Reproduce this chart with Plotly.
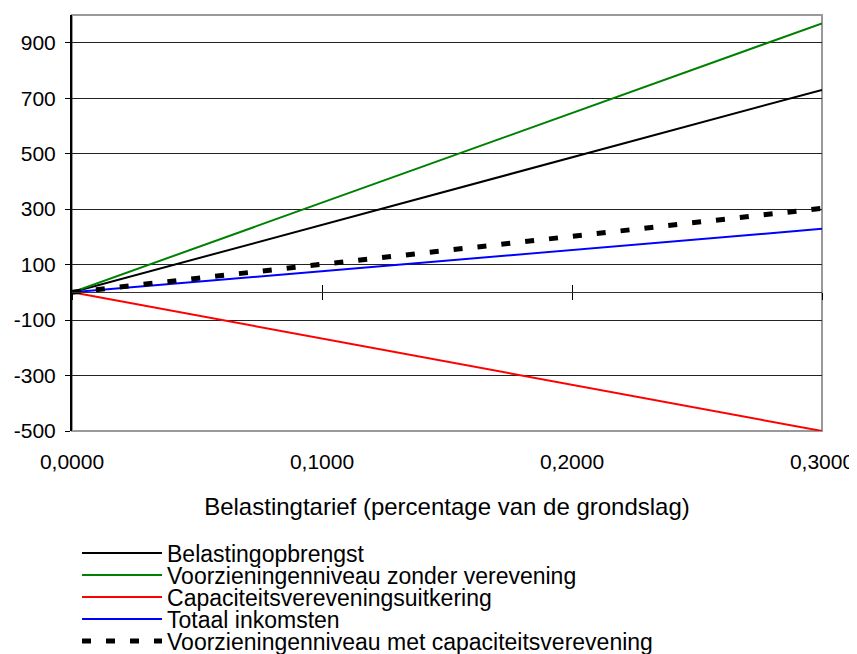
import plotly.graph_objects as go

# Data
tarief = [0.0, 0.3]
belastingopbrengst = [0, 730]
voorziening_zonder = [0, 970]
capaciteitsuitkering = [0, -500]
totaal_inkomsten = [0, 229]
voorziening_met = [0, 303]

series_names = [
    "Belastingopbrengst",
    "Voorzieningenniveau zonder verevening",
    "Capaciteitsvereveningsuitkering",
    "Totaal inkomsten",
    "Voorzieningenniveau met capaciteitsverevening",
]

x_ticks = [0.0, 0.1, 0.2, 0.3]
y_ticks = [-500, -300, -100, 100, 300, 500, 700, 900]
y_tick_labels = [str(v) for v in y_ticks]
y_range = [-500, 1000]
x_range = [0.0, 0.3]

FONT = "Liberation Sans, Arial, sans-serif"
# the page body adds an 8px margin; size the figure so it fits the window
OFF = 8
W, H = 857 - OFF, 654 - OFF
M = dict(l=72 - OFF, r=35, t=15 - OFF, b=223)
plot_h = H - M["t"] - M["b"]

fig = go.Figure()
styles = [
    dict(color="#000000", width=2),
    dict(color="#008000", width=2),
    dict(color="#FF0000", width=2),
    dict(color="#0000FF", width=2),
    dict(color="#000000", width=5, dash="9px,15px"),
]
values = [belastingopbrengst, voorziening_zonder, capaciteitsuitkering,
          totaal_inkomsten, voorziening_met]
legend_keys = ["legend", "legend2", "legend3", "legend4", "legend5"]
for name, vals, st, lg in zip(series_names, values, styles, legend_keys):
    fig.add_trace(go.Scatter(x=tarief, y=vals, name=name, mode="lines",
                             line=st, hoverinfo="skip", legend=lg))

# invisible helper traces so the zero-line axes are drawn
zero_pos = (0 - y_range[0]) / (y_range[1] - y_range[0])
for ax in ["x2", "x3"]:
    fig.add_trace(go.Scatter(x=x_range, y=[0, 0], xaxis=ax, mode="lines",
                             line=dict(width=0), showlegend=False,
                             hoverinfo="skip"))

# one legend per row so rows can be packed tightly like the original
first_row_px = 553 - OFF
row_gap_px = 22
legends = {}
for i, lg in enumerate(legend_keys):
    row_px = first_row_px + i * row_gap_px
    legends[lg] = dict(
        x=0.0067, y=(H - M["b"] - row_px) / plot_h,
        xanchor="left", yanchor="middle",
        font=dict(family=FONT, size=23, color="black"),
        itemwidth=80, bgcolor="rgba(0,0,0,0)", borderwidth=0,
    )

fig.update_layout(
    width=W, height=H,
    margin=dict(**M, autoexpand=False),
    paper_bgcolor="white", plot_bgcolor="white",
    separators=",.",
    font=dict(family=FONT, size=21, color="black"),
    showlegend=True,
    xaxis=dict(
        range=x_range, tickvals=x_ticks, tickformat=".4f",
        showgrid=False, zeroline=False, showline=False, ticks="",
        ticklabelstandoff=16, automargin=False,
        title=dict(text="Belastingtarief (percentage van de grondslag)",
                   font=dict(family=FONT, size=24), standoff=26),
    ),
    xaxis2=dict(
        range=x_range, overlaying="x", anchor="free", position=zero_pos,
        tickvals=x_ticks, showticklabels=False, showgrid=False,
        zeroline=False, showline=True, linecolor="#333333", linewidth=1,
        ticks="inside", ticklen=7, tickcolor="#000000", tickwidth=1,
    ),
    xaxis3=dict(
        range=x_range, overlaying="x", anchor="free", position=zero_pos,
        tickvals=x_ticks, showticklabels=False, showgrid=False,
        zeroline=False, showline=False,
        ticks="outside", ticklen=7, tickcolor="#000000", tickwidth=1,
    ),
    yaxis=dict(
        range=y_range, tickvals=y_ticks, ticktext=y_tick_labels,
        showgrid=True, gridcolor="#222222", gridwidth=1, zeroline=False,
        showline=True, linecolor="#000000", linewidth=2,
        ticks="outside", ticklen=5, tickcolor="#000000",
        ticklabelstandoff=5, automargin=False,
    ),
    shapes=[dict(type="rect", xref="paper", yref="paper", x0=0, x1=1,
                 y0=0, y1=1, line=dict(color="#999999", width=2),
                 layer="below")],
    **legends,
)

fig.write_html("out.html")
